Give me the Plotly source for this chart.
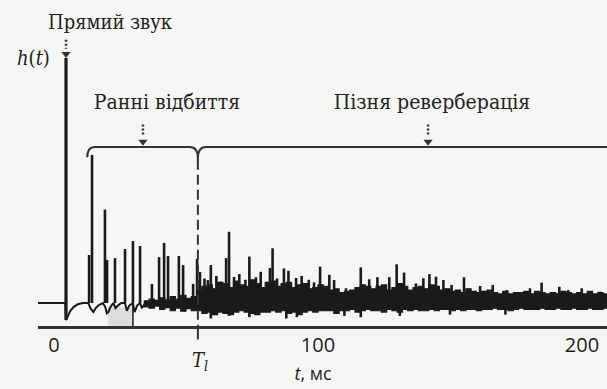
import plotly.graph_objects as go

# ---- time axis (ms) and amplitude (direct sound ~ 95) ----
tick_vals = [0, 100, 200]
tick_text = ["0", "100", "200"]

# direct sound
direct_t = 4.55
direct_h = 95.0
direct_dip = -6.6

# early reflections (spikes)
early_t = [13.3, 14.4, 19.3, 20.1, 23.1, 26.9, 29.9, 32.6, 37.1, 39.8,
           41.7, 43.2, 47.3, 48.9, 52.7, 54.2]
early_h = [18.6, 57.4, 36.2, 16.7, 17.4, 20.9, 24.0, 22.1, 7.4, 17.8,
           23.3, 18.2, 18.2, 14.7, 7.4, 17.1]

# baseline between the early reflections
base_t = [-6.1, 4.3, 4.55, 5.3, 6.2, 7.5, 9.0, 11.0, 13.0, 13.8,
          14.9, 15.8, 17.0, 18.5, 19.4, 20.0, 20.6, 21.4, 22.5, 23.3,
          24.2, 25.5, 26.9, 27.6, 28.5, 29.9, 30.5, 31.5, 32.6, 33.3,
          34.5]
base_h = [0, 0, -6.6, -5.0, -3.0, -1.5, -0.5, 0, 0, -2.0,
          -3.5, -2.0, -0.8, 0, -1.5, -4.0, -3.5, -1.5, 0, -2.0,
          -1.0, 0, 0, -3.0, -1.0, 0, -3.5, -1.0, 0, -2.0,
          0]

# late reverberation: dominant spikes
late_t = [55.3, 57.0, 58.3, 59.4, 61.5, 63.1, 65.2, 66.3, 68.2, 70.2, 72.5,
          74.0, 76.5, 78.3, 81.8, 82.8, 84.5, 87.1, 88.8, 91.7, 93.8, 96.5,
          98.5, 100.8, 104.3, 106.1, 110.6, 116.2, 119.4, 122.5, 127.0, 129.8,
          132.6, 137.1, 139.9, 142.2, 144.7, 147.5, 150.6, 155.3, 161.4, 166.2,
          171.5, 180.3, 184.7, 191.4, 194.8, 199.9, 206.8]
late_h = [12.0, 9.5, 8.9, 14.7, 10.5, 8.3, 17.4, 27.6, 10.1, 11.2, 9.0,
          18.0, 10.0, 12.1, 13.6, 21.2, 9.5, 13.4, 12.5, 9.7, 10.5, 9.0,
          8.0, 14.1, 10.9, 8.9, 5.7, 13.8, 9.2, 10.0, 10.0, 15.0,
          11.8, 7.6, 9.6, 11.2, 10.2, 8.9, 7.0, 10.0, 6.6, 7.0,
          5.0, 5.7, 7.9, 6.3, 5.0, 5.7, 4.4]

# late reverberation: downward excursions
neg_t = [59.4, 66.3, 74.0, 88.0, 92.0, 110.0, 116.2, 131.0, 150.0, 171.0]
neg_h = [-6.0, -5.0, -5.5, -6.0, -5.5, -5.0, -5.5, -5.0, -4.5, -4.5]

# late reverberation: dense noise band (upper / lower edge), 2 ms steps from 34 ms
noise_start = 34.0
noise_step = 2.0
noise_top = [0.8, 1.5, 1.0, 2.0, 1.2, 2.5, 1.5, 3.0, 1.8, 2.5,
             5.0, 6.5, 7.0, 5.5, 8.0, 7.5, 6.0, 8.5, 7.0, 6.5,
             9.0, 7.5, 6.0, 8.0, 8.5, 6.5, 7.5, 8.0, 6.0, 7.0,
             7.5, 5.5, 6.0, 7.0, 6.5, 5.0, 5.5, 4.0, 4.5, 5.0,
             6.0, 7.0, 6.5, 5.5, 6.5, 7.0, 5.0, 6.0, 7.5, 6.5,
             5.0, 6.0, 6.5, 5.5, 7.0, 6.5, 5.0, 5.5, 4.5, 5.0,
             4.0, 5.5, 4.5, 4.0, 4.5, 5.0, 4.0, 3.5, 4.5, 3.5,
             4.0, 4.0, 4.5, 3.5, 4.5, 4.0, 3.5, 4.0, 3.5, 4.5,
             4.0, 3.5, 4.0, 3.5, 4.5, 3.5, 4.0, 3.5, 3.5]
noise_bot = [-1.5, -2.0, -1.2, -2.5, -1.8, -3.0, -2.0, -3.2, -2.2, -3.0,
             -3.0, -4.0, -3.5, -4.5, -3.5, -4.0, -4.5, -3.5, -3.0, -3.5,
             -4.0, -4.5, -3.5, -3.5, -3.0, -3.5, -3.0, -4.0, -3.5, -4.5,
             -3.5, -3.0, -3.5, -3.0, -3.0, -3.0, -4.0, -3.0, -3.0, -2.5,
             -3.5, -3.0, -2.5, -3.0, -3.0, -3.5, -2.5, -3.0, -3.5, -2.5,
             -3.0, -2.5, -3.0, -3.0, -2.5, -3.0, -2.5, -2.5, -3.0, -2.5,
             -3.0, -2.5, -2.5, -3.0, -2.5, -2.5, -2.0, -2.5, -2.5, -3.0,
             -2.5, -2.0, -2.5, -2.5, -2.5, -2.0, -2.5, -2.5, -2.0, -2.5,
             -2.5, -2.0, -2.5, -2.5, -2.0, -2.5, -2.5, -2.0, -2.5]
noise_t = [noise_start + noise_step * i for i in range(len(noise_top))]

# markers of the structure
T_l = 54.5
brace_h = 60.5
brace_start = 12.6
brace_end = 209.5
axis_h = -9.1
arrow_t = [direct_t, 33.7, 141.7]
patch_t = [20.5, 29.7]
patch_h = [-1.5, -8.8]
sep_t = 29.9

INK = "#1a1a1a"
BG = "#f6f6f3"
W, H = 607, 389
X_PER_MS = 2.64
Y_PER_UNIT = 2.58
X_ZERO, Y_ZERO = 54, 303

fig = go.Figure()

# light patch under the early reflections
fig.add_trace(go.Scatter(
    x=[patch_t[0], patch_t[1], patch_t[1], patch_t[0], patch_t[0]],
    y=[patch_h[0], patch_h[0], patch_h[1], patch_h[1], patch_h[0]],
    fill="toself", fillcolor="#dcdcda", mode="lines", line=dict(width=0),
    hoverinfo="skip", showlegend=False))
fig.add_trace(go.Scatter(x=[sep_t, sep_t], y=[0, axis_h], mode="lines",
                         line=dict(color=INK, width=1.5), showlegend=False))

# baseline of the response
fig.add_trace(go.Scatter(x=base_t, y=base_h, mode="lines",
                         line=dict(color=INK, width=2), showlegend=False))

# noise band
fig.add_trace(go.Scatter(x=noise_t, y=noise_bot, mode="lines",
                         line=dict(color=INK, width=1.2, shape="hv"),
                         showlegend=False))
fig.add_trace(go.Scatter(x=noise_t, y=noise_top, mode="lines", fill="tonexty",
                         fillcolor=INK,
                         line=dict(color=INK, width=1.2, shape="hv"),
                         showlegend=False))

# spikes
sx, sy = [], []
for t, h in zip(early_t + late_t + neg_t, early_h + late_h + neg_h):
    sx += [t, t, None]
    sy += [0, h, None]
fig.add_trace(go.Scatter(x=sx, y=sy, mode="lines",
                         line=dict(color=INK, width=2.6), showlegend=False))

# direct sound
fig.add_trace(go.Scatter(x=[direct_t, direct_t], y=[direct_dip, direct_h],
                         mode="lines", line=dict(color=INK, width=3.2),
                         showlegend=False))

# T_l marker: dashed line and tick below the axis
fig.add_trace(go.Scatter(x=[T_l, T_l], y=[brace_h - 5, axis_h], mode="lines",
                         line=dict(color="#333", width=2, dash="10px,5px"),
                         showlegend=False))
fig.add_trace(go.Scatter(x=[T_l, T_l], y=[axis_h, axis_h - 5], mode="lines",
                         line=dict(color="#333", width=2), showlegend=False))

# pointer arrows
arrow_top = [direct_h + 7.0, brace_h + 8.7, brace_h + 8.7]
arrow_tip = [direct_h + 1.5, brace_h + 2.0, brace_h + 2.0]
for t, a, b in zip(arrow_t, arrow_top, arrow_tip):
    fig.add_trace(go.Scatter(x=[t, t], y=[a, b + 2], mode="lines",
                             line=dict(color="#333", width=2.5, dash="2px,2px"),
                             showlegend=False))
    fig.add_trace(go.Scatter(x=[t], y=[b], mode="markers",
                             marker=dict(symbol="triangle-down", size=8,
                                         color="#333"),
                             showlegend=False))

# braces
d = 3.0
brace_path = (
    f"M {brace_start},{brace_h - 4} Q {brace_start},{brace_h} {brace_start + d},{brace_h} "
    f"L {T_l - d},{brace_h} Q {T_l},{brace_h} {T_l},{brace_h - 4.5} L {T_l},{brace_h - 5.5} "
    f"M {T_l},{brace_h - 4.5} Q {T_l},{brace_h} {T_l + d},{brace_h} L {brace_end},{brace_h}"
)
fig.add_shape(type="path", path=brace_path, xref="x", yref="y",
              line=dict(color="#333", width=2))

serif = "DejaVu Serif Condensed, DejaVu Serif, serif"
sans = "Open Sans, DejaVu Sans, sans-serif"

# labels inside the plot area, placed by pixel position converted to data units
texts = [
    ("Прямий звук", 110, 24, serif, 20),
    ("Ранні відбиття", 167, 104, serif, 21),
    ("Пізня реверберація", 432, 104, serif, 21),
    ("<i>T</i><sub><i>l</i></sub>", 200, 362, serif, 20),
    ("<i>t</i>, мс", 313, 375, sans, 18),
]
for txt, x, y, fam, size in texts:
    fig.add_trace(go.Scatter(
        x=[(x - X_ZERO) / X_PER_MS], y=[(Y_ZERO - y) / Y_PER_UNIT],
        mode="text", text=[txt], textposition="middle center",
        textfont=dict(family=fam, size=size, color="#222"),
        cliponaxis=False, hoverinfo="skip", showlegend=False))

# vertical-axis label left of the plot area
fig.add_annotation(text="<i>h</i>(<i>t</i>)", x=33 / W, y=1 - 58 / H,
                   xref="paper", yref="paper", showarrow=False,
                   xanchor="center", yanchor="middle",
                   font=dict(family=serif, size=20, color="#222"))

x_lo = (38 - X_ZERO) / X_PER_MS
x_hi = (W - X_ZERO) / X_PER_MS
y_lo = (Y_ZERO - H) / Y_PER_UNIT
y_hi = Y_ZERO / Y_PER_UNIT
fig.update_layout(
    width=W, height=H, margin=dict(l=0, r=0, t=0, b=0),
    paper_bgcolor=BG, plot_bgcolor=BG, showlegend=False,
    xaxis=dict(domain=[38 / W, 1], range=[x_lo, x_hi], anchor="free",
               position=1 - 326.5 / H, showline=True, linecolor="#333",
               linewidth=2.5, showgrid=False, zeroline=False,
               tickvals=tick_vals, ticktext=tick_text, ticks="",
               tickfont=dict(family=sans, size=20, color="#1e1e1e")),
    yaxis=dict(domain=[0, 1], range=[y_lo, y_hi], visible=False),
)

fig.write_html("out.html")
